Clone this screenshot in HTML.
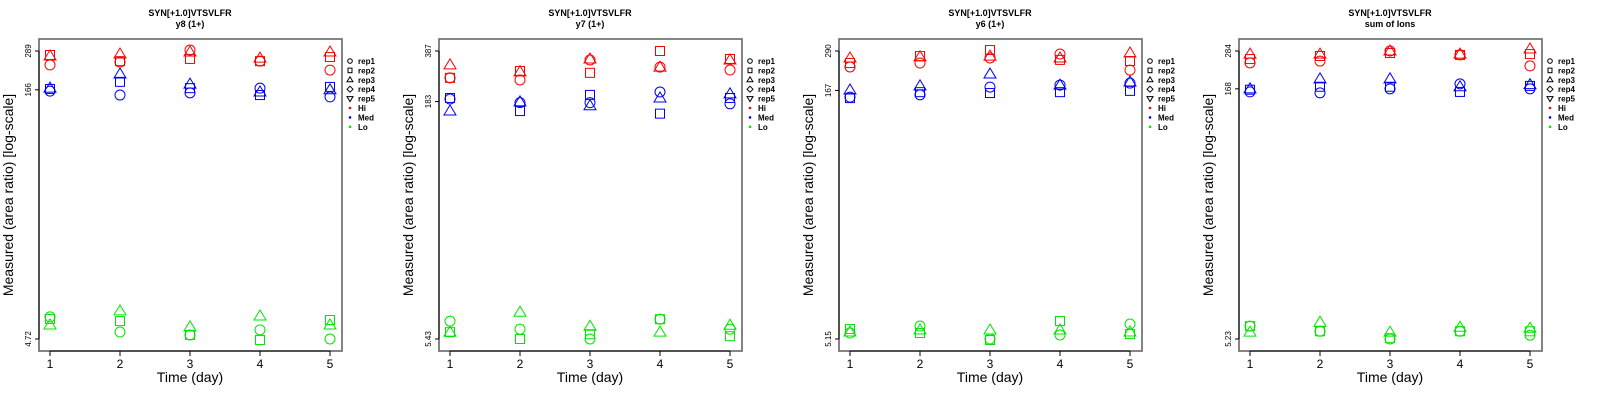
<!DOCTYPE html>
<html><head><meta charset="utf-8"><style>
html,body{margin:0;padding:0;background:#fff}
svg{display:block;font-family:"Liberation Sans",sans-serif}
</style></head><body>
<svg id="c" width="1600" height="400" viewBox="0 0 1600 400"></svg>
<script>
const days=[1,2,3,4,5];
const panelTitles=["y8 (1+)","y7 (1+)","y6 (1+)","sum of Ions"];
const peptide="SYN[+1.0]VTSVLFR";
const tickTop=[289,387,290,284];
const tickMid=[166,183,167,168];
const tickBot=[4.72,5.43,5.15,5.23];
const levels=["Hi","Med","Lo"];
const reps=["rep1","rep2","rep3"];
// values[panel][level][rep] = per-day values
const p1Hi=[[237,247,293,250,220],[273,250,258,250,265],[269,277,285,261,285]];
const p1Med=[[163,154,159,170,150],[168,186,170,154,173],[170,208,180,161,166]];
const p1Lo=[[6.47,5.22,5.00,5.38,4.72],[6.28,6.10,5.00,4.65,6.19],[5.77,7.05,5.61,6.56,5.77]];
const p2Hi=[[260,252,339,305,292],[260,288,280,387,344],[315,284,344,305,339]];
const p2Med=[[190,180,180,211,177],[193,159,202,153,193],[159,182,172,193,205]];
const p2Lo=[[7.07,6.28,5.43,7.28,6.28],[6.01,5.43,5.83,7.28,5.66],[6.01,8.07,6.56,6.01,6.66]];
const p3Hi=[[232,245,263,278,222],[245,270,294,256,252],[263,267,270,263,282]];
const p3Med=[[152,157,175,180,185],[150,163,161,163,166],[168,178,210,180,188]];
const p3Lo=[[5.60,6.18,5.15,5.45,6.35],[5.92,5.60,5.08,6.62,5.52],[5.68,5.84,5.84,5.84,5.68]];
const p4Hi=[[241,247,284,269,231],[254,265,276,269,272],[272,272,284,272,292]];
const p4Med=[[161,159,168,180,168],[166,173,173,161,175],[168,193,193,173,178]];
const p4Lo=[[6.25,5.82,5.23,5.82,5.51],[6.25,5.82,5.29,5.82,5.82],[5.75,6.60,5.75,6.16,6.07]];
const values=[[p1Hi,p1Med,p1Lo],[p2Hi,p2Med,p2Lo],[p3Hi,p3Med,p3Lo],[p4Hi,p4Med,p4Lo]];
const legendLabels=["rep1","rep2","rep3","rep4","rep5","Hi","Med","Lo"];

const colors=["#ff0000","#0000ff","#00e600"];
const NS="http://www.w3.org/2000/svg";
const svg=document.getElementById('c');
function mk(tag,attrs,parent){const e=document.createElementNS(NS,tag);for(const k in attrs)e.setAttribute(k,attrs[k]);(parent||svg).appendChild(e);return e;}
const boxL=39,boxR=342,boxT=39,boxB=351,yT=51,yB=339;
for(let p=0;p<4;p++){
  const ox=p*400;
  const g=mk('g',{transform:`translate(${ox},0)`});
  
  
  const xs=d=>50+(d-1)*70;
  const lt=Math.log(tickTop[p]),lb=Math.log(tickBot[p]);
  const ys=v=>yT+(lt-Math.log(v))*(yB-yT)/(lt-lb);
  let t=mk('text',{x:190,y:16,'text-anchor':'middle','font-size':9,'font-weight':'bold'},g);t.textContent=peptide;
  
  t=mk('text',{x:190,y:27,'text-anchor':'middle','font-size':9,'font-weight':'bold'},g);t.textContent=panelTitles[p];
  
  const r=mk('rect',{x:boxL,y:boxT,width:boxR-boxL,height:boxB-boxT,fill:'none',stroke:'#666','stroke-width':1.6},g);
  
  // x axis
  mk('line',{x1:xs(1),x2:xs(5),y1:boxB,y2:boxB,stroke:'#000'},g);
  days.forEach(d=>{
    mk('line',{x1:xs(d),x2:xs(d),y1:boxB,y2:boxB+5,stroke:'#000'},g);
    const tl=mk('text',{x:xs(d),y:368,'text-anchor':'middle','font-size':12},g);tl.textContent=d;
    
  });
  t=mk('text',{x:190,y:382,'text-anchor':'middle','font-size':14},g);t.textContent="Time (day)";
  
  // y axis
  const yt=[tickTop[p],tickMid[p],tickBot[p]];
  mk('line',{x1:boxL,x2:boxL,y1:ys(yt[0]),y2:ys(yt[2]),stroke:'#000'},g);
  yt.forEach(v=>{
    const y=ys(v);
    mk('line',{x1:boxL-4,x2:boxL,y1:y,y2:y,stroke:'#000'},g);
    const tl=mk('text',{x:0,y:0,'text-anchor':'middle','font-size':8,transform:`translate(31,${y}) rotate(-90)`},g);tl.textContent=v;
    
  });
  t=mk('text',{x:0,y:0,'text-anchor':'middle','font-size':14,transform:`translate(13,195) rotate(-90)`},g);t.textContent="Measured (area ratio) [log-scale]";
  
  // points
  values[p].forEach((lev,li)=>{
    lev.forEach((arr,ri)=>{
      arr.forEach((v,di)=>{
        const x=xs(days[di]),y=ys(v),c=colors[li];
        let m;
        if(ri===0)m=mk('circle',{cx:x,cy:y,r:5,fill:'none',stroke:c,'stroke-width':1},g);
        else if(ri===1)m=mk('rect',{x:x-4.5,y:y-4.5,width:9,height:9,fill:'none',stroke:c,'stroke-width':1},g);
        else m=mk('polygon',{points:`${x},${y-6} ${x-6},${y+4} ${x+6},${y+4}`,fill:'none',stroke:c,'stroke-width':1},g);
        
        
      });
    });
  });
  // legend
  const lg=mk('g',{},g);
  
  legendLabels.forEach((lab,i)=>{
    const y=61+i*9.4,x=350;
    if(i===0)mk('circle',{cx:x,cy:y,r:2.3,fill:'none',stroke:'#000'},lg);
    else if(i===1)mk('rect',{x:x-2,y:y-2.3,width:4,height:4.6,fill:'none',stroke:'#000'},lg);
    else if(i===2)mk('polygon',{points:`${x},${y-3} ${x-3},${y+2} ${x+3},${y+2}`,fill:'none',stroke:'#000'},lg);
    else if(i===3)mk('polygon',{points:`${x},${y-3} ${x-3},${y} ${x},${y+3} ${x+3},${y}`,fill:'none',stroke:'#000'},lg);
    else if(i===4)mk('polygon',{points:`${x},${y+3} ${x-3},${y-2} ${x+3},${y-2}`,fill:'none',stroke:'#000'},lg);
    else mk('circle',{cx:x,cy:y,r:1.3,fill:colors[i-5]},lg);
    const tl=mk('text',{x:358,y:y+3,'font-size':8,'font-weight':'bold'},lg);tl.textContent=lab;
    
  });
}
</script>
</body></html>
